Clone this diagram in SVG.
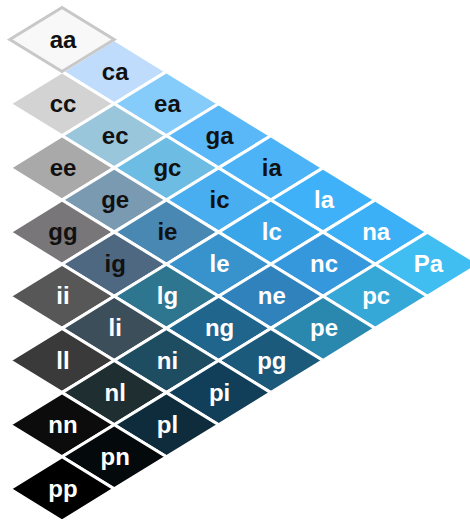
<svg xmlns="http://www.w3.org/2000/svg" xmlns:xlink="http://www.w3.org/1999/xlink" width="470" height="524" viewBox="0 0 470 524">
  <style>
    .cell { stroke: #ffffff; stroke-width: 3; stroke-linejoin: miter; }
    .lbl { font-family: "Liberation Sans", Arial, sans-serif; font-size: 24px; font-weight: bold; text-anchor: middle; }
    .dk { fill: #111111; }
    .lt { fill: #ffffff; }
  </style>
  <defs>
    <!-- one rhombus cell, centred on the origin -->
    <polygon id="rh" points="-52.2,0 0,-32.1 52.2,0 0,32.1"/>
  </defs>
  <rect width="470" height="524" fill="#ffffff"/>

  <!-- column a -->
  <g id="ca"><use xlink:href="#rh" class="cell" x="114.2" y="71.6" fill="#bfdcfd"/><text class="lbl dk" x="115.2" y="79.6">ca</text></g>
  <g id="ea"><use xlink:href="#rh" class="cell" x="166.4" y="103.7" fill="#86ccfa"/><text class="lbl dk" x="167.4" y="111.7">ea</text></g>
  <g id="ga"><use xlink:href="#rh" class="cell" x="218.6" y="135.8" fill="#5bb8f8"/><text class="lbl dk" x="219.6" y="143.8">ga</text></g>
  <g id="ia"><use xlink:href="#rh" class="cell" x="270.8" y="167.9" fill="#4cb4f6"/><text class="lbl dk" x="271.8" y="175.9">ia</text></g>
  <g id="la"><use xlink:href="#rh" class="cell" x="323" y="200" fill="#3fb1f8"/><text class="lbl lt" x="324" y="208">la</text></g>
  <g id="na"><use xlink:href="#rh" class="cell" x="375.2" y="232.1" fill="#3cb0f6"/><text class="lbl lt" x="376.2" y="240.1">na</text></g>
  <g id="Pa"><use xlink:href="#rh" class="cell" x="427.4" y="264.2" fill="#40bef2"/><text class="lbl lt" x="428.4" y="272.2">Pa</text></g>

  <!-- column c -->
  <g id="cc"><use xlink:href="#rh" class="cell" x="62" y="103.7" fill="#d3d3d3"/><text class="lbl dk" x="63" y="111.7">cc</text></g>
  <g id="ec"><use xlink:href="#rh" class="cell" x="114.2" y="135.8" fill="#9ac6dc"/><text class="lbl dk" x="115.2" y="143.8">ec</text></g>
  <g id="gc"><use xlink:href="#rh" class="cell" x="166.4" y="167.9" fill="#6cbce4"/><text class="lbl dk" x="167.4" y="175.9">gc</text></g>
  <g id="ic"><use xlink:href="#rh" class="cell" x="218.6" y="200" fill="#48aef0"/><text class="lbl dk" x="219.6" y="208">ic</text></g>
  <g id="lc"><use xlink:href="#rh" class="cell" x="270.8" y="232.1" fill="#3aa6ea"/><text class="lbl lt" x="271.8" y="240.1">lc</text></g>
  <g id="nc"><use xlink:href="#rh" class="cell" x="323" y="264.2" fill="#3598dc"/><text class="lbl lt" x="324" y="272.2">nc</text></g>
  <g id="pc"><use xlink:href="#rh" class="cell" x="375.2" y="296.3" fill="#36a8d8"/><text class="lbl lt" x="376.2" y="304.3">pc</text></g>

  <!-- column e -->
  <g id="ee"><use xlink:href="#rh" class="cell" x="62" y="167.9" fill="#a9a9a9"/><text class="lbl dk" x="63" y="175.9">ee</text></g>
  <g id="ge"><use xlink:href="#rh" class="cell" x="114.2" y="200" fill="#7a9ab2"/><text class="lbl dk" x="115.2" y="208">ge</text></g>
  <g id="ie"><use xlink:href="#rh" class="cell" x="166.4" y="232.1" fill="#4a88b4"/><text class="lbl dk" x="167.4" y="240.1">ie</text></g>
  <g id="le"><use xlink:href="#rh" class="cell" x="218.6" y="264.2" fill="#3892cc"/><text class="lbl lt" x="219.6" y="272.2">le</text></g>
  <g id="ne"><use xlink:href="#rh" class="cell" x="270.8" y="296.3" fill="#2f82bc"/><text class="lbl lt" x="271.8" y="304.3">ne</text></g>
  <g id="pe"><use xlink:href="#rh" class="cell" x="323" y="328.4" fill="#2a88ae"/><text class="lbl lt" x="324" y="336.4">pe</text></g>

  <!-- column g -->
  <g id="gg"><use xlink:href="#rh" class="cell" x="62" y="232.1" fill="#787678"/><text class="lbl dk" x="63" y="240.1">gg</text></g>
  <g id="ig"><use xlink:href="#rh" class="cell" x="114.2" y="264.2" fill="#4e6882"/><text class="lbl dk" x="115.2" y="272.2">ig</text></g>
  <g id="lg"><use xlink:href="#rh" class="cell" x="166.4" y="296.3" fill="#2e7590"/><text class="lbl lt" x="167.4" y="304.3">lg</text></g>
  <g id="ng"><use xlink:href="#rh" class="cell" x="218.6" y="328.4" fill="#20658c"/><text class="lbl lt" x="219.6" y="336.4">ng</text></g>
  <g id="pg"><use xlink:href="#rh" class="cell" x="270.8" y="360.5" fill="#1c5a7c"/><text class="lbl lt" x="271.8" y="368.5">pg</text></g>

  <!-- column i -->
  <g id="ii"><use xlink:href="#rh" class="cell" x="62" y="296.3" fill="#575757"/><text class="lbl lt" x="63" y="304.3">ii</text></g>
  <g id="li"><use xlink:href="#rh" class="cell" x="114.2" y="328.4" fill="#3c4e5a"/><text class="lbl lt" x="115.2" y="336.4">li</text></g>
  <g id="ni"><use xlink:href="#rh" class="cell" x="166.4" y="360.5" fill="#1e4d62"/><text class="lbl lt" x="167.4" y="368.5">ni</text></g>
  <g id="pi"><use xlink:href="#rh" class="cell" x="218.6" y="392.6" fill="#113e58"/><text class="lbl lt" x="219.6" y="400.6">pi</text></g>

  <!-- column l -->
  <g id="ll"><use xlink:href="#rh" class="cell" x="62" y="360.5" fill="#3a3a3a"/><text class="lbl lt" x="63" y="368.5">ll</text></g>
  <g id="nl"><use xlink:href="#rh" class="cell" x="114.2" y="392.6" fill="#1f2e30"/><text class="lbl lt" x="115.2" y="400.6">nl</text></g>
  <g id="pl"><use xlink:href="#rh" class="cell" x="166.4" y="424.7" fill="#0e2c3c"/><text class="lbl lt" x="167.4" y="432.7">pl</text></g>

  <!-- column n -->
  <g id="nn"><use xlink:href="#rh" class="cell" x="62" y="424.7" fill="#0c0c0c"/><text class="lbl lt" x="63" y="432.7">nn</text></g>
  <g id="pn"><use xlink:href="#rh" class="cell" x="114.2" y="456.8" fill="#040a0c"/><text class="lbl lt" x="115.2" y="464.8">pn</text></g>

  <!-- column p -->
  <g id="pp"><use xlink:href="#rh" class="cell" x="62" y="488.9" fill="#000000"/><text class="lbl lt" x="63" y="496.9">pp</text></g>

  <!-- top cell, outlined in grey -->
  <g id="aa"><use xlink:href="#rh" x="62" y="39.5" fill="#f8f8f8" stroke="#c8c8c8" stroke-width="3"/><text class="lbl dk" x="63" y="47.5">aa</text></g>

  <g id="connectors"/>
</svg>
